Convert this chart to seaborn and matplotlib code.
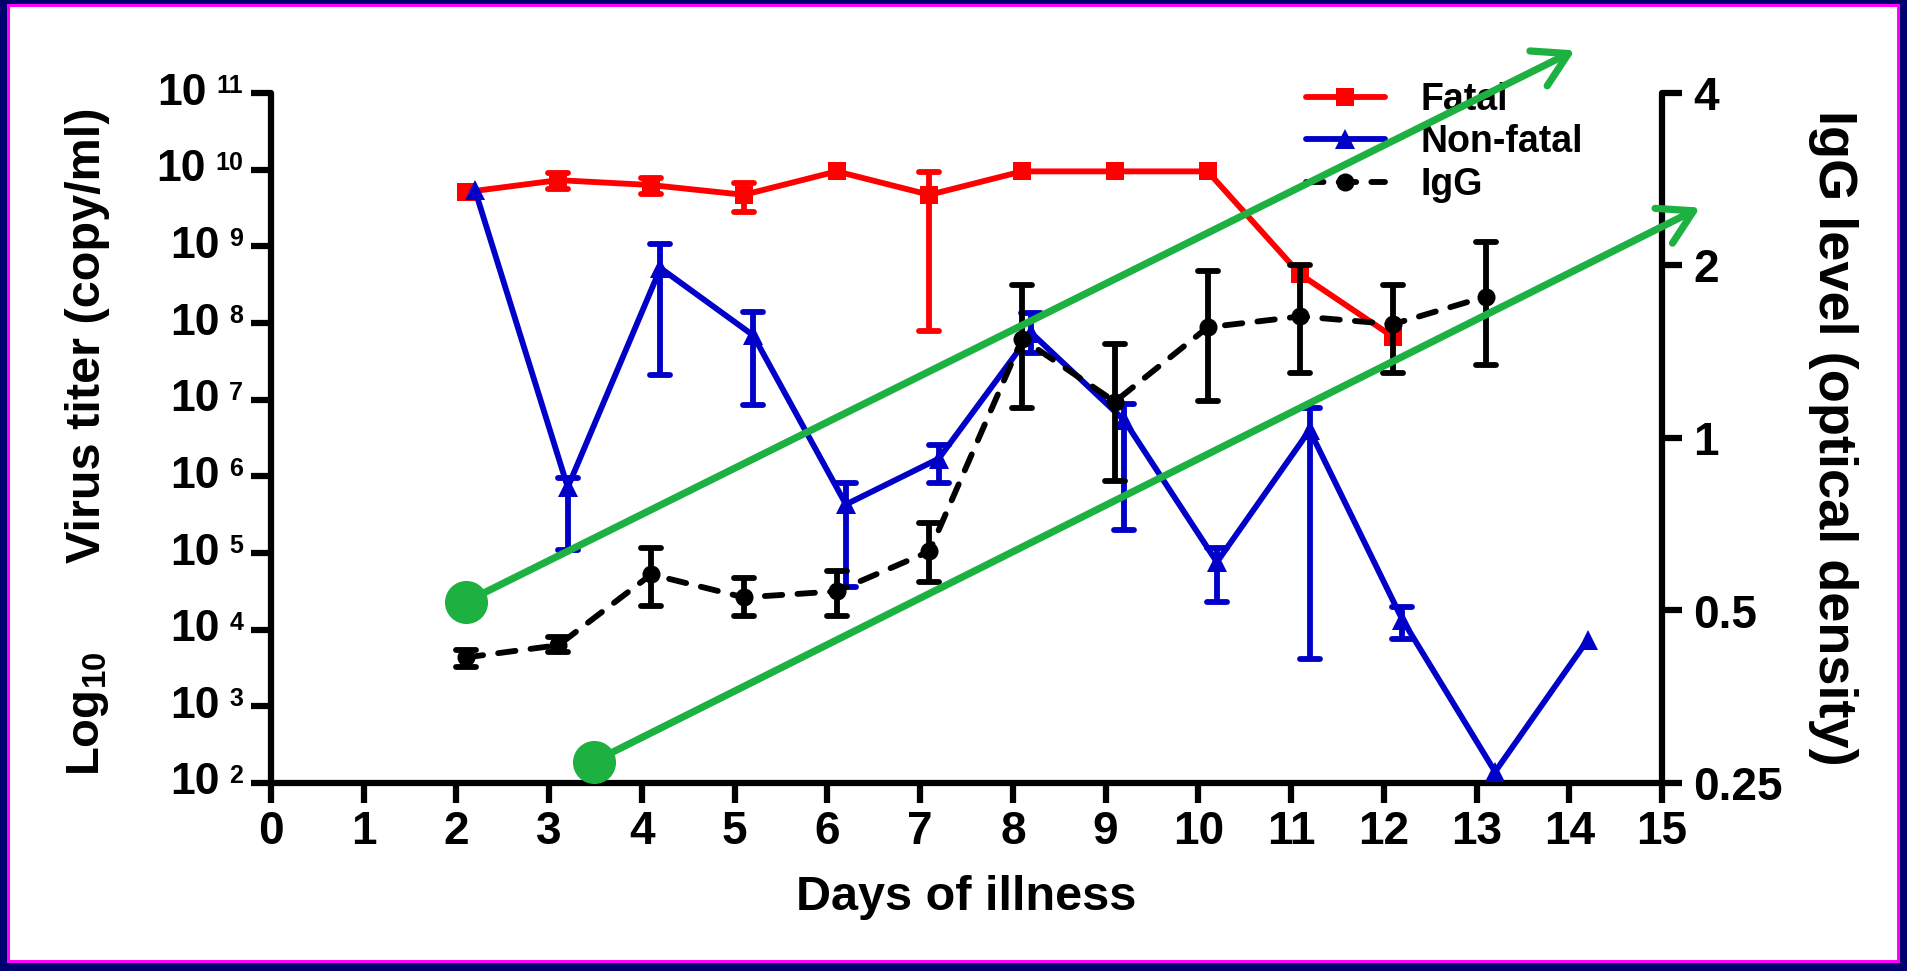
import numpy as np
import matplotlib
matplotlib.use("Agg")
import matplotlib.pyplot as plt
import seaborn as sns
from matplotlib.lines import Line2D
from matplotlib.patches import Rectangle
from matplotlib.markers import MarkerStyle
from matplotlib.ticker import NullLocator, FixedLocator, NullFormatter

nan = np.nan

# ---------------- data ----------------
days_fatal = [2.1, 3.1, 4.1, 5.1, 6.1, 7.1, 8.1, 9.1, 10.1, 11.1, 12.1]
titer_fatal = [5.1e9, 7.3e9, 6.3e9, 4.7e9, 9.5e9, 4.7e9, 9.5e9, 9.5e9, 9.5e9, 4.3e8, 6.6e7]
fatal_lo = [nan, 5.6e9, 4.8e9, 2.8e9, nan, 7.9e7, nan, nan, nan, nan, nan]
fatal_hi = [nan, 9.1e9, 7.9e9, 6.8e9, nan, 9.3e9, nan, nan, nan, nan, nan]

days_nonfatal = [2.2, 3.2, 4.2, 5.2, 6.2, 7.2, 8.2, 9.2, 10.2, 11.2, 12.2, 13.2, 14.2]
titer_nonfatal = [5.4e9, 7.2e5, 5.2e8, 6.9e7, 4.3e5, 1.7e6, 7.4e7, 5.4e6, 7.6e4, 4.0e6, 1.35e4, 1.4e2, 7.4e3]
nonfatal_lo = [nan, 1.1e5, 2.1e7, 8.5e6, 3.6e4, 8.1e5, 4.1e7, 2.0e5, 2.3e4, 4.2e3, 7.6e3, nan, nan]
nonfatal_hi = [nan, 9.5e5, 1.07e9, 1.4e8, 8.1e5, 2.6e6, 1.35e8, 8.7e6, 1.17e5, 7.9e6, 2.0e4, nan, nan]

days_igg = [2.1, 3.1, 4.1, 5.1, 6.1, 7.1, 8.1, 9.1, 10.1, 11.1, 12.1, 13.1]
igg_od = [0.414, 0.435, 0.578, 0.527, 0.54, 0.634, 1.49, 1.157, 1.56, 1.63, 1.58, 1.765]
igg_lo = [0.399, 0.424, 0.51, 0.49, 0.49, 0.56, 1.13, 0.84, 1.16, 1.30, 1.30, 1.34]
igg_hi = [0.427, 0.450, 0.644, 0.57, 0.587, 0.71, 1.85, 1.46, 1.96, 2.0, 1.85, 2.2]

x_ticks = list(range(0, 16))
titer_exponents = list(range(2, 12))
igg_ticks = [0.25, 0.5, 1, 2, 4]
igg_tick_labels = ["0.25", "0.5", "1", "2", "4"]
legend_labels = ["Fatal", "Non-fatal", "IgG"]

# annotation arrows (start day, start titer, end day, end titer)
arrow_starts = [(2.10, 2.3e4), (3.48, 1.9e2)]
arrow_ends = [(14.06, 3.6e11), (15.41, 3.2e9)]

RED = "#FF0000"
BLUE = "#0000C8"
BLACK = "#000000"
GREEN = "#1CB140"
NAVY = "#00006E"
MAGENTA = "#FF00FF"

# ---------------- style ----------------
sns.set_theme(style="ticks")
plt.rcParams["font.family"] = ["Liberation Sans", "DejaVu Sans"]
plt.rcParams["font.weight"] = "bold"
plt.rcParams["axes.labelweight"] = "bold"
plt.rcParams["text.color"] = "black"
plt.rcParams["axes.labelcolor"] = "black"
plt.rcParams["xtick.color"] = "black"
plt.rcParams["ytick.color"] = "black"
plt.rcParams["axes.edgecolor"] = "black"

W, H = 1907, 971
fig = plt.figure(figsize=(W / 100, H / 100), dpi=100)
fig.patch.set_facecolor(NAVY)
fig.patches.append(Rectangle((7 / W, 8 / H), (W - 14) / W, (H - 12) / H,
                             transform=fig.transFigure, facecolor=MAGENTA,
                             edgecolor="none", zorder=-20))
fig.patches.append(Rectangle((10 / W, 11 / H), (W - 20) / W, (H - 18) / H,
                             transform=fig.transFigure, facecolor="white",
                             edgecolor="none", zorder=-19))

ax = fig.add_axes([271 / W, 1 - 783 / H, 1391 / W, 690 / H])
ax.patch.set_alpha(0)
ax.set_yscale("log")
ax2 = ax.twinx()
ax2.set_yscale("log", base=2)
ax2.patch.set_alpha(0)

LW = 4.2
SPW = 4.5
TL = 14.4


def draw_err(axis, x, y, lo, hi, color, z):
    x = np.asarray(x, float); y = np.asarray(y, float)
    lo = np.asarray(lo, float); hi = np.asarray(hi, float)
    m = ~np.isnan(lo)
    _, caps, _ = axis.errorbar(x[m], y[m], yerr=[y[m] - lo[m], hi[m] - y[m]],
                               fmt="none", ecolor=color, elinewidth=LW,
                               capsize=7.5, capthick=LW, zorder=z)
    for c in caps:
        c.set_marker(MarkerStyle("_", capstyle="round"))


# fatal
sns.lineplot(x=days_fatal, y=titer_fatal, ax=ax, color=RED, linewidth=LW,
             marker="s", markersize=13, markeredgewidth=0, zorder=3)
draw_err(ax, days_fatal, titer_fatal, fatal_lo, fatal_hi, RED, 3)

# non-fatal
sns.lineplot(x=days_nonfatal, y=titer_nonfatal, ax=ax, color=BLUE, linewidth=LW,
             marker="^", markersize=15, markeredgewidth=0, zorder=4)
draw_err(ax, days_nonfatal, titer_nonfatal, nonfatal_lo, nonfatal_hi, BLUE, 4)

# IgG
sns.lineplot(x=days_igg, y=igg_od, ax=ax2, color=BLACK, linewidth=LW,
             marker="o", markersize=13, markeredgewidth=0, zorder=5)
igg_line = ax2.lines[-1]
igg_line.set_dashes([3, 2.6])
igg_line.set_dash_capstyle("round")
draw_err(ax2, days_igg, igg_od, igg_lo, igg_hi, BLACK, 5)

# ---------------- axes ----------------
ax.set_xlim(0, 15)
ax.set_ylim(1e2, 1e11)
ax2.set_ylim(0.25, 4)
ax.set_xticks(x_ticks)
ax.set_xticklabels([str(t) for t in x_ticks])
ax.yaxis.set_major_locator(FixedLocator([10.0 ** k for k in titer_exponents]))
ax.yaxis.set_minor_locator(NullLocator())
ax.yaxis.set_major_formatter(NullFormatter())
ax.yaxis.set_minor_formatter(NullFormatter())
ax2.yaxis.set_major_locator(FixedLocator(igg_ticks))
ax2.yaxis.set_minor_locator(NullLocator())
ax2.set_yticklabels(igg_tick_labels)
ax2.yaxis.set_minor_formatter(NullFormatter())

for s in ["top", "right"]:
    ax.spines[s].set_visible(False)
for s in ["top", "left", "bottom"]:
    ax2.spines[s].set_visible(False)
for s in ["left", "bottom"]:
    ax.spines[s].set_linewidth(SPW)
    ax.spines[s].set_capstyle("round")
ax2.spines["right"].set_linewidth(SPW)
ax2.spines["right"].set_capstyle("round")

ax.tick_params(axis="x", direction="out", length=TL, width=SPW, labelsize=33,
               pad=5, colors=BLACK)
ax.tick_params(axis="y", direction="out", length=TL, width=SPW, colors=BLACK)
ax2.tick_params(axis="y", direction="out", length=TL, width=SPW, labelsize=33,
                pad=8, colors=BLACK)
for lab in ax.get_xticklabels() + ax2.get_yticklabels():
    lab.set_fontweight("bold")

# left tick labels: 10 with superscript exponent
for k in titer_exponents:
    v = 10.0 ** k
    sup = ax.annotate(str(k), xy=(0, v), xycoords=("axes fraction", "data"),
                      xytext=(-20, 0), textcoords="offset points",
                      ha="right", va="baseline", fontsize=18, fontweight="bold",
                      annotation_clip=False)
    ax.annotate("10", xy=(0, v), xycoords=(sup, "data"), xytext=(-7, 0),
                textcoords="offset points", ha="right", va="center",
                fontsize=32, fontweight="bold", annotation_clip=False)

# axis labels
ax.set_xlabel("Days of illness", fontsize=35, fontweight="bold")
ax.xaxis.set_label_coords(0.5, (783 - 910) / 690)
ax.xaxis.label.set_va("baseline")
fig.text(88 / W, 1 - 335 / H, "Virus titer (copy/ml)", rotation=90,
         ha="center", va="center", fontsize=35, fontweight="bold")
fig.text(88 / W, 1 - 714 / H, "Log$_{\\mathregular{10}}$", rotation=90,
         ha="center", va="center", fontsize=34, fontweight="bold")
ax2.set_ylabel("IgG level (optical density)", rotation=270, fontsize=39,
               fontweight="bold")
ax2.yaxis.set_label_coords((1833 - 271) / 1391, 0.5)
ax2.yaxis.label.set_va("center")
ax2.yaxis.label.set_ha("center")

# legend
handles = [
    Line2D([], [], color=RED, lw=LW, marker="s", ms=13, mew=0),
    Line2D([], [], color=BLUE, lw=LW, marker="^", ms=15, mew=0),
    Line2D([], [], color=BLACK, lw=LW, marker="o", ms=13, mew=0,
           dashes=[3, 2.6], dash_capstyle="round"),
]
leg = ax2.legend(handles, legend_labels, loc="upper left",
                 bbox_to_anchor=(1306 / W, 1 - 82 / H),
                 bbox_transform=fig.transFigure, frameon=False, fontsize=27,
                 handlelength=2.1, handletextpad=0.95, labelspacing=0.17,
                 borderpad=0, borderaxespad=0, numpoints=1)
for t in leg.get_texts():
    t.set_fontweight("bold")
leg.set_zorder(8)

# green arrows with dots
for (x0, y0), (x1, y1) in zip(arrow_starts, arrow_ends):
    ax2.annotate("", xy=(x1, y1), xytext=(x0, y0), xycoords=ax.transData,
                 textcoords=ax.transData, annotation_clip=False, zorder=20,
                 arrowprops=dict(arrowstyle="->,head_length=1.2,head_width=0.7",
                                 mutation_scale=20, lw=5.2, color=GREEN,
                                 shrinkA=0, shrinkB=0, capstyle="round",
                                 joinstyle="round"))
    ax2.plot([x0], [y0], "o", ms=30, color=GREEN, transform=ax.transData,
             clip_on=False, zorder=21)

ax.set_xlim(0, 15)
ax.set_ylim(1e2, 1e11)
ax2.set_ylim(0.25, 4)

fig.savefig("out.png", dpi=100, facecolor=fig.get_facecolor())
